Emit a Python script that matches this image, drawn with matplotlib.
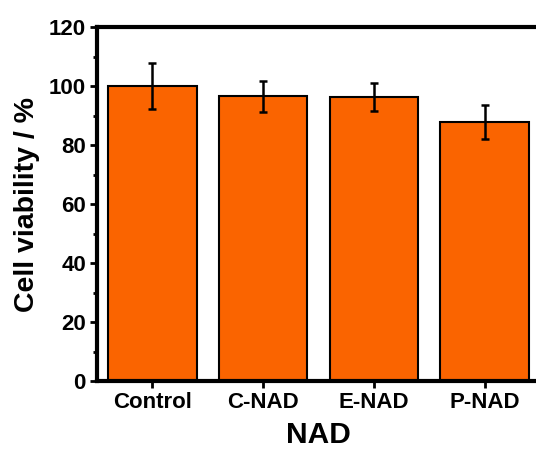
import matplotlib.pyplot as plt
from matplotlib.ticker import MultipleLocator

# Data
groups = ["Control", "C-NAD", "E-NAD", "P-NAD"]
viability = [100.0, 96.5, 96.2, 87.8]
errors = [7.8, 5.2, 4.7, 5.6]

plt.rcParams["font.family"] = ["Liberation Sans", "DejaVu Sans"]
plt.rcParams["font.weight"] = "bold"

fig = plt.figure(figsize=(5.36, 4.5), dpi=100)
ax = fig.add_axes([97 / 536, 1 - 381 / 450, 443 / 536, 354 / 450])

x = range(len(groups))
ax.bar(x, viability, width=0.8, color="#FA6400", edgecolor="black", linewidth=1.5,
       yerr=errors, error_kw=dict(ecolor="black", elinewidth=1.8, capsize=2.8, capthick=1.8))

ax.set_xlim(-0.5, 3.5)
ax.set_ylim(0, 120)
ax.yaxis.set_major_locator(MultipleLocator(20))
ax.yaxis.set_minor_locator(MultipleLocator(10))
ax.set_xticks(list(x))
ax.set_xticklabels(groups)

for s in ax.spines.values():
    s.set_linewidth(3)
ax.tick_params(axis="both", which="major", direction="out", length=5, width=2,
               labelsize=16, pad=3)
ax.tick_params(axis="y", which="minor", direction="out", length=3, width=2)
ax.tick_params(axis="x", which="minor", length=0)

ax.set_ylabel("Cell viability / %", fontsize=20.5, fontweight="bold", labelpad=6)
ax.set_xlabel("NAD", fontsize=21.5, fontweight="bold", labelpad=5.5)

fig.savefig("out.png", dpi=100)
